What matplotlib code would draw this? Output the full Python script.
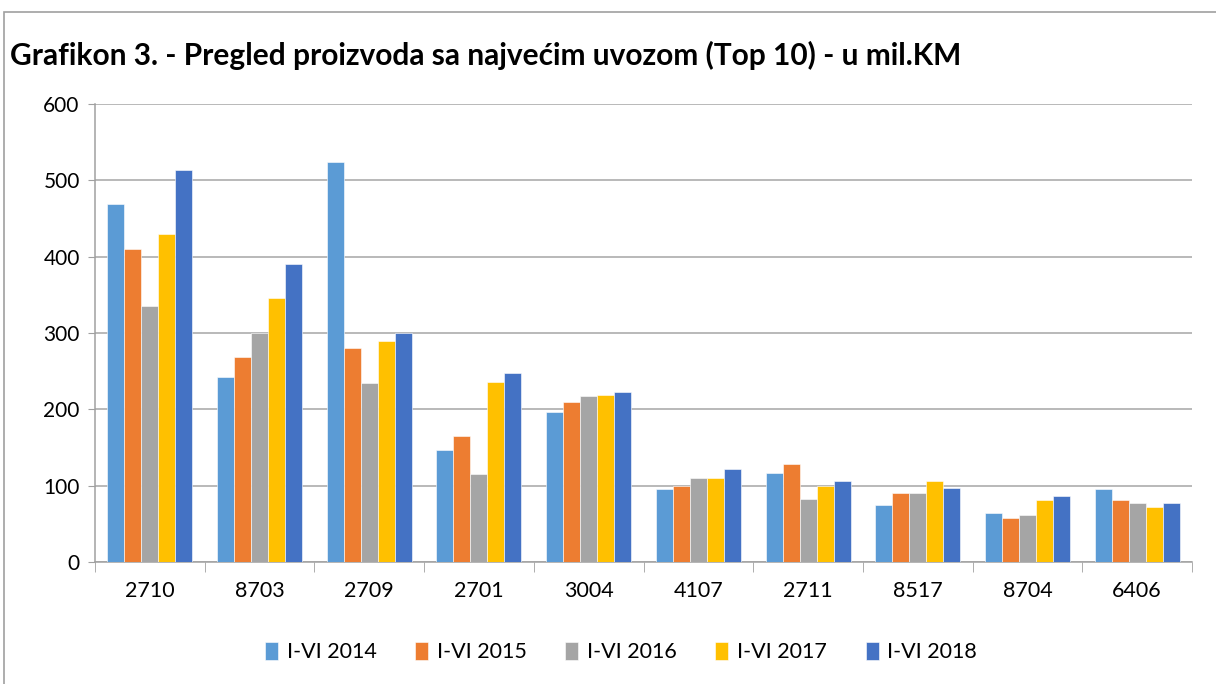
import matplotlib.pyplot as plt
import matplotlib.patches as patches
import numpy as np

categories = ["2710", "8703", "2709", "2701", "3004", "4107", "2711", "8517", "8704", "6406"]
series_names = ["I-VI 2014", "I-VI 2015", "I-VI 2016", "I-VI 2017", "I-VI 2018"]
v2014 = [469, 243, 524, 147, 196, 96, 116, 75, 64, 96]
v2015 = [410, 269, 281, 165, 209, 100, 129, 91, 57, 81]
v2016 = [335, 300, 235, 115, 217, 110, 82, 91, 62, 77]
v2017 = [430, 346, 290, 236, 219, 110, 100, 106, 81, 72]
v2018 = [514, 391, 300, 248, 223, 122, 106, 97, 86, 77]
colors = ["#5b9bd5", "#ed7d31", "#a5a5a5", "#ffc000", "#4472c4"]

plt.rcParams['font.family'] = ['Lato', 'DejaVu Sans']

fig = plt.figure(figsize=(12.16, 6.84), dpi=100)
ax = fig.add_axes([95/1216, 1-562/684, 1097/1216, 458/684])

# chart border
fig.patches.append(patches.Rectangle((4/1216, -0.01), 1.02, 1-12/684+0.01,
                   transform=fig.transFigure, fill=False, edgecolor='#a0a0a0', lw=1.2))

x = np.arange(len(categories))
w = 0.155
for i, (name, vals) in enumerate(zip(series_names, [v2014, v2015, v2016, v2017, v2018])):
    ax.bar(x + (i - 2) * w, vals, w, color=colors[i], label=name,
           edgecolor='white', linewidth=0.4, zorder=3)

ax.set_xlim(-0.5, len(categories) - 0.5)
ax.set_ylim(0, 600)
ax.set_yticks(range(0, 601, 100))
ax.set_xticks(x)
ax.set_xticklabels(categories)
ax.set_xticks(np.arange(-0.5, len(categories), 1), minor=True)
ax.tick_params(axis='x', which='major', length=0, pad=14, labelsize=15.5)
ax.tick_params(axis='x', which='minor', length=7, color='#a0a0a0')
ax.tick_params(axis='y', length=5, color='#a0a0a0', labelsize=15, pad=6)
ax.yaxis.grid(True, color='#a6a6a6', lw=1.1, zorder=0)
for s in ['top', 'right']:
    ax.spines[s].set_visible(False)
for s in ['left', 'bottom']:
    ax.spines[s].set_color('#a0a0a0')
    ax.spines[s].set_linewidth(1.1)

fig.text(10/1216, 1-55/684, "Grafikon 3. - Pregled proizvoda sa najvećim uvozom (Top 10) - u mil.KM",
         fontsize=21.5, fontweight='bold', va='center', ha='left')

ax.legend(loc='center', bbox_to_anchor=(621/1216, 1-652/684), bbox_transform=fig.transFigure,
          ncol=5, frameon=False, fontsize=15.5, handlelength=0.6, handleheight=0.9,
          handletextpad=0.4, columnspacing=1.8)

fig.savefig("out.png", dpi=100)
